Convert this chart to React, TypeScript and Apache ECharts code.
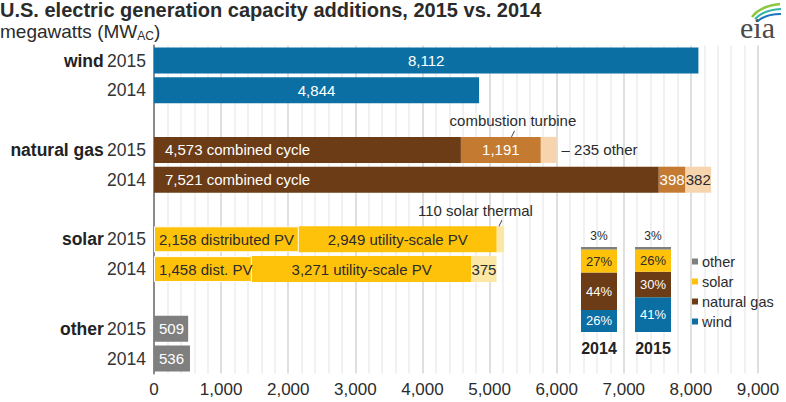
import React, { useEffect, useRef } from "react";
import * as echarts from "echarts";

// ---------- data ----------
const groups = ["wind", "natural gas", "solar", "other"];
const years = ["2015", "2014"];
const windValues = [8112, 4844];
const gasCombinedCycle = [4573, 7521];
const gasCombustionTurbine = [1191, 398];
const gasOther = [235, 382];
const solarDistributedPV = [2158, 1458];
const solarDistLabels = ["distributed PV", "dist. PV"];
const solarUtilityPV = [2949, 3271];
const solarThermal = [110, 375];
const otherValues = [509, 536];

const shareYears = ["2014", "2015"];
const shareWind = [26, 41];
const shareGas = [44, 30];
const shareSolar = [27, 26];
const shareOther = [3, 3];
const shareLegend = ["other", "solar", "natural gas", "wind"];

// ---------- style ----------
const FONT = "'Liberation Sans', Arial, sans-serif";
const BLUE = "#0B6FA4";
const BROWN = "#6B3C15";
const ORANGE = "#C47A30";
const PEACH = "#F5D4AE";
const YELLOW = "#FFC20A";
const PALEYELLOW = "#FCE7A4";
const GRAY = "#7F7F7F";
const DARK = "#2b2b2b";

const fmt = (v: number) => v.toLocaleString("en-US");

const categories: string[] = [];
groups.forEach((g, gi) => {
  years.forEach((y) => categories.push(`${g}|${y}`));
  if (gi < groups.length - 1) categories.push(`gap${gi}`);
});

function seriesData(group: string, values: number[], labelFor?: (v: number, yi: number) => any) {
  return categories.map((c) => {
    const [g, y] = c.split("|");
    if (g !== group) return "-";
    const yi = years.indexOf(y);
    const v = values[yi];
    const label = labelFor ? labelFor(v, yi) : undefined;
    return label ? { value: v, label } : v;
  });
}

const baseLabel = { fontFamily: FONT, fontSize: 15 };

function mainBar(name: string, color: string, data: any[], extra: any = {}) {
  return {
    type: "bar",
    name,
    stack: "main",
    xAxisIndex: 0,
    yAxisIndex: 0,
    barWidth: 26,
    itemStyle: { color },
    data,
    ...extra,
  };
}

const catIndex = (g: string, y: string) => categories.indexOf(`${g}|${y}`);

const tickSymbol = "path://M0,10L3,0";

const option: any = {
  animation: false,
  textStyle: { fontFamily: FONT },
  title: {
    text: "U.S. electric generation capacity additions, 2015 vs. 2014",
    subtext: "{m|megawatts (MW}{s|AC}{m|)}",
    left: 0,
    top: 0,
    padding: [0, 0, 0, 0],
    itemGap: 0,
    textStyle: { fontSize: 20, fontWeight: "bold", color: DARK, fontFamily: FONT, lineHeight: 20 },
    subtextStyle: {
      rich: {
        m: { fontSize: 19, color: DARK, fontFamily: FONT, lineHeight: 22 },
        s: { fontSize: 12, color: DARK, fontFamily: FONT, lineHeight: 13, verticalAlign: "bottom" },
      },
    },
  },
  graphic: [
    {
      type: "text",
      left: 740,
      top: 12,
      style: { text: "eia", fontFamily: "'Liberation Serif', serif", fontSize: 30, fill: "#4a4a4a" },
    },
    {
      type: "bezierCurve",
      shape: { x1: 752, y1: 17, cpx1: 760, cpy1: 6, x2: 780, y2: 4 },
      style: { stroke: "#8DC63F", lineWidth: 2.5, fill: "none" },
    },
    {
      type: "bezierCurve",
      shape: { x1: 755, y1: 19, cpx1: 763, cpy1: 10, x2: 781, y2: 9 },
      style: { stroke: "#2FB5A3", lineWidth: 2, fill: "none" },
    },
    {
      type: "bezierCurve",
      shape: { x1: 758, y1: 21, cpx1: 766, cpy1: 14, x2: 781, y2: 14 },
      style: { stroke: "#1C75BC", lineWidth: 2, fill: "none" },
    },
  ],
  legend: {
    data: shareLegend,
    orient: "vertical",
    left: 687,
    top: 249,
    itemWidth: 6,
    itemHeight: 6,
    itemGap: 5,
    icon: "rect",
    selectedMode: false,
    textStyle: { fontSize: 14.5, color: DARK, fontFamily: FONT, padding: [0, 0, 0, -1] },
  },
  grid: [
    { left: 154, right: 28, top: 45.6, bottom: 28.6 },
    { left: 572, width: 108, top: 247, height: 85 },
  ],
  xAxis: [
    {
      type: "value",
      gridIndex: 0,
      min: 0,
      max: 9000,
      interval: 1000,
      axisLine: { show: false },
      axisTick: { show: false },
      axisLabel: { fontSize: 17, color: DARK, fontFamily: FONT, margin: 8, formatter: (v: number) => fmt(v) },
      splitLine: { show: true, lineStyle: { color: "#d4d4d4", width: 1.5 } },
      minorTick: { show: false, splitNumber: 5 },
      minorSplitLine: { show: true, lineStyle: { color: "#ededed", width: 1.5 } },
    },
    {
      type: "category",
      gridIndex: 1,
      data: shareYears,
      axisLine: { show: false },
      axisTick: { show: false },
      axisLabel: { fontSize: 16, fontWeight: "bold", color: "#222", fontFamily: FONT, margin: 8 },
    },
  ],
  yAxis: [
    {
      type: "category",
      gridIndex: 0,
      inverse: true,
      data: categories,
      axisLine: { show: true, lineStyle: { color: "#8a8a8a", width: 2 } },
      axisTick: { show: false },
      splitLine: { show: false },
      axisLabel: {
        margin: 8,
        formatter: (val: string) => {
          if (!val.includes("|")) return "";
          const [g, y] = val.split("|");
          return y === years[0] ? `{b|${g}} {n|${y}}` : `{n|${y}}`;
        },
        rich: {
          b: { fontSize: 17.5, fontWeight: "bold", color: "#222", fontFamily: FONT, lineHeight: 20 },
          n: { fontSize: 17.5, color: "#333", fontFamily: FONT, lineHeight: 20 },
        },
      },
    },
    { type: "value", gridIndex: 1, min: 0, max: 100, show: false },
  ],
  series: [
    mainBar(
      "wind MW",
      BLUE,
      seriesData("wind", windValues),
      { label: { show: true, position: "inside", color: "#fff", ...baseLabel, formatter: (p: any) => fmt(p.value) } }
    ),
    mainBar(
      "gas combined cycle",
      BROWN,
      seriesData("natural gas", gasCombinedCycle),
      {
        label: {
          show: true,
          position: "insideLeft",
          distance: 11,
          color: "#fff",
          ...baseLabel,
          formatter: (p: any) => `${fmt(p.value)} combined cycle`,
        },
      }
    ),
    mainBar(
      "gas combustion turbine",
      ORANGE,
      seriesData("natural gas", gasCombustionTurbine),
      {
        label: { show: true, position: "inside", color: "#fff", ...baseLabel, formatter: (p: any) => fmt(p.value) },
        markPoint: {
          symbol: tickSymbol,
          symbolSize: [3, 6],
          symbolOffset: [0, -16],
          itemStyle: { color: "none", borderColor: "#444", borderWidth: 1 },
          label: {
            show: true,
            position: "top",
            distance: -1,
            color: DARK,
            ...baseLabel,
            formatter: "combustion turbine",
          },
          data: [
            {
              coord: [gasCombinedCycle[0] + gasCombustionTurbine[0] / 2 + 180, catIndex("natural gas", "2015")],
            },
          ],
        },
      }
    ),
    mainBar(
      "gas other",
      PEACH,
      seriesData("natural gas", gasOther, (v, yi) =>
        yi === 0
          ? { show: true, position: "right", distance: 5, color: DARK, ...baseLabel, formatter: `‒ ${fmt(v)} other` }
          : { show: true, position: "inside", color: DARK, ...baseLabel, formatter: fmt(v) }
      )
    ),
    mainBar(
      "solar distributed PV",
      YELLOW,
      seriesData("solar", solarDistributedPV, (v, yi) => ({
        show: true,
        position: "insideLeft",
        distance: 5,
        color: DARK,
        ...baseLabel,
        formatter: `${fmt(v)} ${solarDistLabels[yi]}`,
      })),
      { itemStyle: { color: YELLOW, borderColor: "#fff", borderWidth: 1 } }
    ),
    mainBar(
      "solar utility PV",
      YELLOW,
      seriesData("solar", solarUtilityPV),
      {
        label: {
          show: true,
          position: "inside",
          color: DARK,
          ...baseLabel,
          formatter: (p: any) => `${fmt(p.value)} utility-scale PV`,
        },
      }
    ),
    mainBar(
      "solar thermal",
      PALEYELLOW,
      seriesData("solar", solarThermal, (v, yi) =>
        yi === 1 ? { show: true, position: "inside", color: DARK, ...baseLabel, formatter: fmt(v) } : undefined
      ),
      {
        markPoint: {
          symbol: tickSymbol,
          symbolSize: [3, 6],
          symbolOffset: [0, -16],
          itemStyle: { color: "none", borderColor: "#444", borderWidth: 1 },
          label: {
            show: true,
            position: "top",
            distance: -1,
            offset: [-25, 0],
            color: DARK,
            ...baseLabel,
            formatter: `${fmt(solarThermal[0])} solar thermal`,
          },
          data: [
            {
              coord: [solarDistributedPV[0] + solarUtilityPV[0] + solarThermal[0] / 2, catIndex("solar", "2015")],
            },
          ],
        },
      }
    ),
    mainBar(
      "other MW",
      GRAY,
      seriesData("other", otherValues),
      {
        label: {
          show: true,
          position: "insideLeft",
          distance: 5,
          color: "#fff",
          ...baseLabel,
          formatter: (p: any) => fmt(p.value),
        },
      }
    ),
    // inset share chart
    ...[
      { name: "wind", data: shareWind, color: BLUE, labelColor: "#fff" },
      { name: "natural gas", data: shareGas, color: BROWN, labelColor: "#fff" },
      { name: "solar", data: shareSolar, color: YELLOW, labelColor: DARK },
      { name: "other", data: shareOther, color: GRAY, labelColor: DARK },
    ].map((s) => ({
      type: "bar",
      name: s.name,
      stack: "share",
      xAxisIndex: 1,
      yAxisIndex: 1,
      barWidth: 36,
      itemStyle: { color: s.color },
      data: s.data,
      label: {
        show: true,
        position: s.name === "other" ? "top" : "inside",
        distance: 5,
        color: s.labelColor,
        fontFamily: FONT,
        fontSize: s.name === "other" ? 12 : 13,
        formatter: (p: any) => `${p.value}%`,
      },
    })),
  ],
};

export default function App() {
  const ref = useRef<HTMLDivElement>(null);
  useEffect(() => {
    const chart = echarts.init(ref.current!, null, { renderer: "svg" });
    chart.setOption(option);
    return () => chart.dispose();
  }, []);
  return (
    <div
      ref={ref}
      style={{ position: "fixed", left: 0, top: 0, width: 786, height: 402, background: "#fff" }}
    />
  );
}
